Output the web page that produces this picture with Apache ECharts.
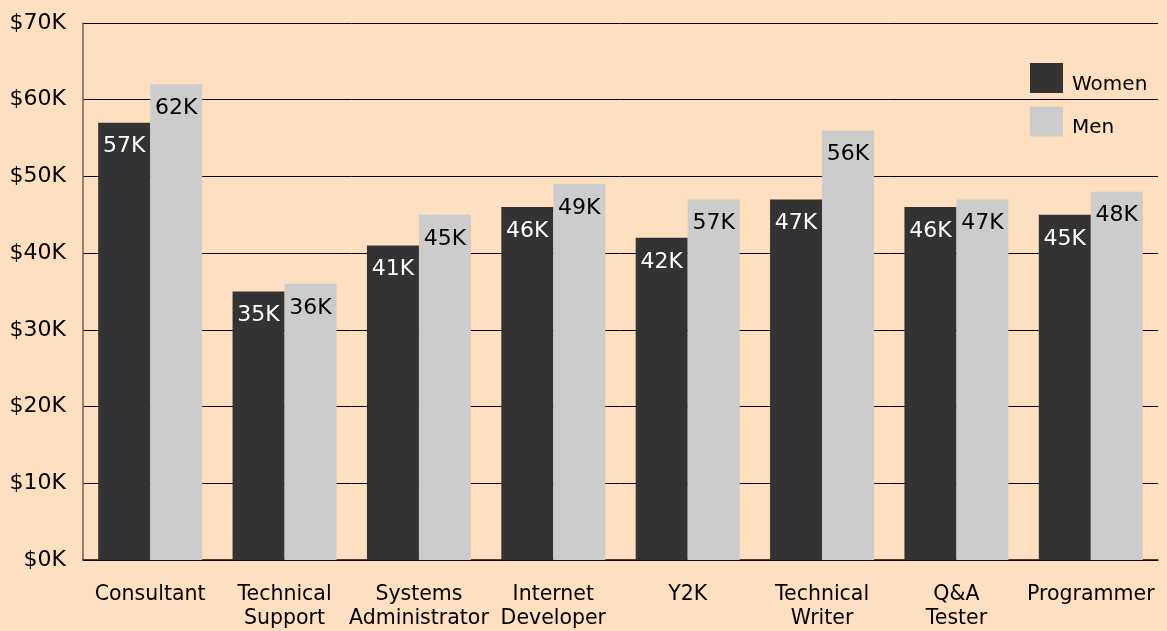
<!DOCTYPE html>
<html>
<head>
<meta charset="utf-8">
<script src="https://cdn.jsdelivr.net/npm/echarts@6/dist/echarts.min.js"></script>
<style>
  html, body { margin: 0; padding: 0; background: #fedfbf; }
  #chart { width: 1167px; height: 631px; }
</style>
</head>
<body>
<div id="chart"></div>
<script>
const categories = ['Consultant', 'Technical\nSupport', 'Systems\nAdministrator', 'Internet\nDeveloper',
  'Y2K', 'Technical\nWriter', 'Q&A\nTester', 'Programmer']
const women = [57, 35, 41, 46, 42, 47, 46, 45]
const men = [62, 36, 45, 49, 47, 56, 47, 48]
// bar labels as printed on the chart (Y2K men reads 57K although its bar stops at 47K)
const womenLabels = ['57K', '35K', '41K', '46K', '42K', '47K', '46K', '45K']
const menLabels = ['62K', '36K', '45K', '49K', '57K', '56K', '47K', '48K']
const yTicks = [0, 10, 20, 30, 40, 50, 60, 70]

const FONT = 'DejaVu Sans'
const chart = echarts.init(document.getElementById('chart'))

const option = {
  backgroundColor: '#fedfbf',
  animation: false,
  textStyle: { fontFamily: FONT },
  grid: { left: 83, right: 9, top: 23, bottom: 70 },
  legend: {
    orient: 'vertical',
    left: 1025,
    top: 58,
    itemWidth: 33,
    itemHeight: 30,
    itemGap: 12,
    icon: 'rect',
    formatter: name => '{t|' + name + '}',
    textStyle: {
      rich: { t: { fontFamily: FONT, fontSize: 20, color: '#000', padding: [13, 0, 0, 4] } }
    },
    data: ['Women', 'Men']
  },
  xAxis: {
    type: 'category',
    data: categories,
    axisLine: { lineStyle: { color: '#111', width: 1.5 } },
    axisTick: { inside: true, length: 12, lineStyle: { color: '#111' } },
    axisLabel: { color: '#000', fontFamily: FONT, fontSize: 20.5, lineHeight: 24, margin: 23, interval: 0 }
  },
  yAxis: {
    type: 'value',
    min: yTicks[0],
    max: yTicks[yTicks.length - 1],
    interval: 10,
    axisLine: { show: true, lineStyle: { color: '#6e6052', width: 1.5 } },
    axisTick: { show: false },
    axisLabel: { color: '#000', fontFamily: FONT, fontSize: 22, margin: 17, formatter: v => '$' + v + 'K' },
    splitLine: { lineStyle: { color: '#000', width: 1 } }
  },
  series: [
    {
      name: 'Women',
      type: 'bar',
      data: women,
      barWidth: 52,
      barGap: '0%',
      itemStyle: { color: '#333333' },
      label: {
        show: true, position: 'insideTop', distance: 13,
        color: '#fff', fontFamily: FONT, fontSize: 22,
        formatter: p => womenLabels[p.dataIndex]
      }
    },
    {
      name: 'Men',
      type: 'bar',
      data: men,
      barWidth: 52,
      barGap: '0%',
      itemStyle: { color: '#cccccc' },
      label: {
        show: true, position: 'insideTop', distance: 13,
        color: '#000', fontFamily: FONT, fontSize: 22,
        formatter: p => menLabels[p.dataIndex]
      }
    }
  ]
}

chart.setOption(option)
</script>
</body>
</html>
